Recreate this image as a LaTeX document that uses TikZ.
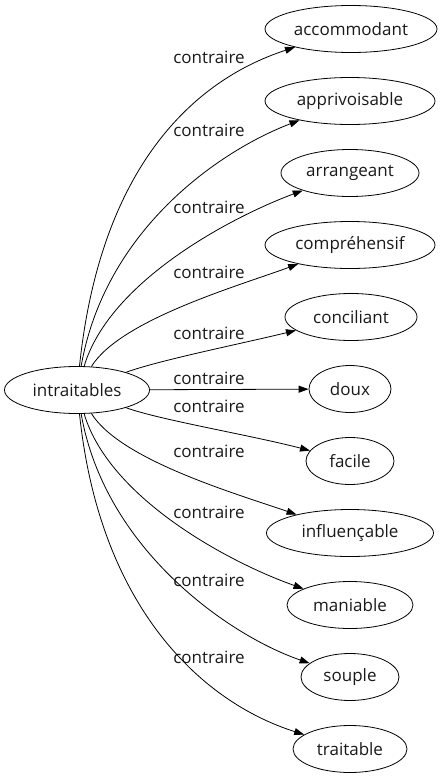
\documentclass[tikz,border=0pt]{standalone}
\usepackage{fontspec}
\setmainfont{Open Sans}
\usetikzlibrary{shapes.geometric,arrows.meta}
\begin{document}
\begin{tikzpicture}[x=1pt,y=-1pt,
  ell/.style={ellipse,draw,line width=0.8pt,minimum height=47pt,inner sep=0pt,font=\fontsize{17}{20}\selectfont,text=black!90},
  lab/.style={inner sep=0pt,font=\fontsize{17}{20}\selectfont,text=black!90},
  edge/.style={line width=0.8pt,-{Triangle[length=10pt,width=7pt]}}]
\useasboundingbox (0,0) rectangle (443,779);
\node[ell,minimum width=145pt] (src) at (77,390) {intraitables};
\node[ell,minimum width=172pt] (t1) at (351,29) {accommodant};
\node[ell,minimum width=170pt] (t2) at (350,101) {apprivoisable};
\node[ell,minimum width=138pt] (t3) at (350,173) {arrangeant};
\node[ell,minimum width=170pt] (t4) at (350,245) {compréhensif};
\node[ell,minimum width=132pt] (t5) at (351,317) {conciliant};
\node[ell,minimum width=82pt] (t6) at (350,389) {doux};
\node[ell,minimum width=88pt] (t7) at (350,461) {facile};
\node[ell,minimum width=167pt] (t8) at (350,533) {influençable};
\node[ell,minimum width=126pt] (t9) at (350,605) {maniable};
\node[ell,minimum width=98pt] (t10) at (350,677) {souple};
\node[ell,minimum width=114pt] (t11) at (350,749) {traitable};
\node[lab] (l1) at (209,57) {contraire};
\node[lab] (l2) at (209,130) {contraire};
\node[lab] (l3) at (209,207) {contraire};
\node[lab] (l4) at (209,272) {contraire};
\node[lab] (l5) at (209,333) {contraire};
\node[lab] (l6) at (209,378) {contraire};
\node[lab] (l7) at (209,406) {contraire};
\node[lab] (l8) at (209,451) {contraire};
\node[lab] (l9) at (209,512) {contraire};
\node[lab] (l10) at (209,580) {contraire};
\node[lab] (l11) at (209,657) {contraire};
\draw[edge] (src) .. controls (100,170) and (191,81) .. (t1);
\draw[edge] (src) .. controls (105,230) and (219,151) .. (t2);
\draw[edge] (src) .. controls (110,280) and (234,216) .. (t3);
\draw[edge] (src) .. controls (120,320) and (238,286) .. (t4);
\draw[edge] (src) .. controls (160,360) and (240,344) .. (t5);
\draw[edge] (src) -- (t6);
\draw[edge] (src) .. controls (160,420) and (250,435) .. (t7);
\draw[edge] (src) .. controls (120,460) and (237,494) .. (t8);
\draw[edge] (src) .. controls (110,500) and (233,564) .. (t9);
\draw[edge] (src) .. controls (105,550) and (230,636) .. (t10);
\draw[edge] (src) .. controls (100,610) and (204,703) .. (t11);
\end{tikzpicture}
\end{document}
